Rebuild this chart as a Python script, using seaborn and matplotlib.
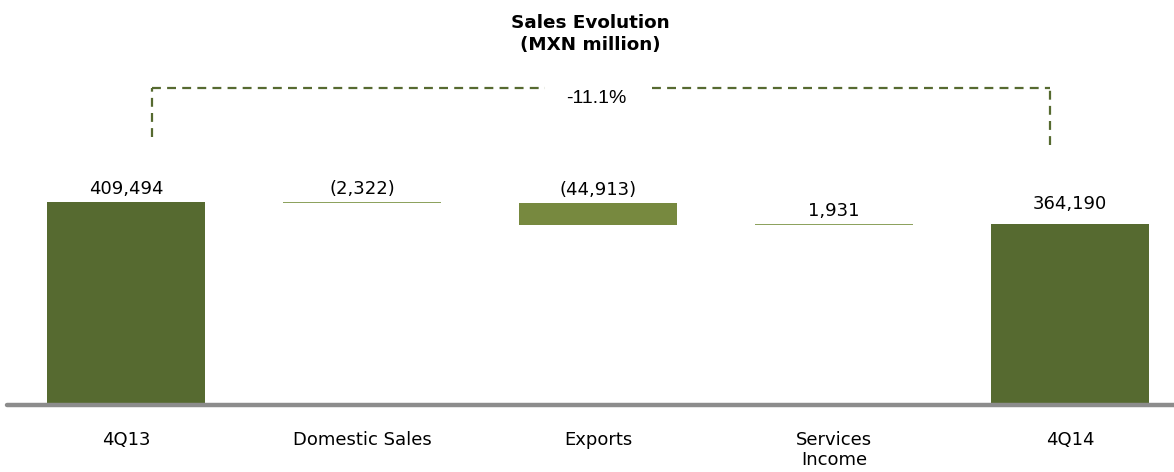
import numpy as np
import pandas as pd
import matplotlib
matplotlib.use('Agg')
import matplotlib.pyplot as plt
import seaborn as sns

# Chart data
categories = ['4Q13', 'Domestic Sales', 'Exports', 'Services\nIncome', '4Q14']
start_total = 409494
changes = [-2322, -44913, 1931]
end_total = 364190
value_labels = ['409,494', '(2,322)', '(44,913)', '1,931', '364,190']
pct_label = '-11.1%'

total_color = '#566a30'
change_colors = ['#8da25e', '#77893f', '#8da25e']


def main():
    sns.set_theme(style='white')
    plt.rcParams['font.family'] = ['DejaVu Sans']
    plt.rcParams['text.color'] = 'black'

    # waterfall bottoms / tops
    running = start_total + np.cumsum(changes)
    prev = np.concatenate([[start_total], running[:-1]])
    bottoms = [0] + list(np.minimum(prev, running)) + [0]
    tops = [start_total] + list(np.maximum(prev, running)) + [end_total]
    df = pd.DataFrame({'cat': categories,
                       'bottom': bottoms,
                       'height': np.array(tops) - np.array(bottoms)})
    colors = [total_color] + change_colors + [total_color]

    fig = plt.figure(figsize=(11.74, 4.72), dpi=100)
    ax = fig.add_axes([0, 67 / 472, 1, 405 / 472])

    sns.barplot(data=df, x='cat', y='height', hue='cat', palette=colors,
                width=0.67, legend=False, ax=ax, linewidth=0, saturation=1)
    for patch, b in zip(ax.patches, df['bottom']):
        patch.set_y(b)

    ax.set_xlim(-0.534, 4.441)
    ax.set_ylim(0, 816900)

    # labels above each bar
    for i, (t, lab) in enumerate(zip(tops, value_labels)):
        off = 8 if i == 4 else 3
        ax.annotate(lab, (i, t), xytext=(0, off), textcoords='offset points',
                    ha='center', va='bottom', fontsize=13, color='black')

    # baseline
    for s in ['top', 'right', 'left', 'bottom']:
        ax.spines[s].set_visible(False)
    ax.axhline(0, xmin=7 / 1174, xmax=1, color='#8c8c8c', lw=3.2, clip_on=False)

    ax.set_xlabel('')
    ax.set_ylabel('')
    ax.set_yticks([])
    ax.tick_params(axis='x', length=0, pad=19, labelsize=13, colors='black')
    for lbl in ax.get_xticklabels():
        lbl.set_verticalalignment('top')
        lbl.set_linespacing(1.15)

    # bracket showing change between totals
    ytop = 639400
    dash = dict(color=total_color, lw=1.6, dashes=(4, 2.8))
    ax.plot([0.11, 0.11], [540500, ytop], **dash)
    ax.plot([0.11, 1.775], [ytop, ytop], **dash)
    ax.plot([2.229, 3.915], [ytop, ytop], **dash)
    ax.plot([3.915, 3.915], [524400, ytop], **dash)
    ax.text(1.995, 619000, pct_label, ha='center', va='center', fontsize=14,
            family=['Liberation Sans', 'DejaVu Sans'], color='black')

    fig.text(0.503, 1 - 34 / 472, 'Sales Evolution\n(MXN million)', ha='center',
             va='center', fontsize=13.2, fontweight='bold', linespacing=1.3,
             color='black')

    fig.savefig('out.png', dpi=100)


if __name__ == '__main__':
    main()
